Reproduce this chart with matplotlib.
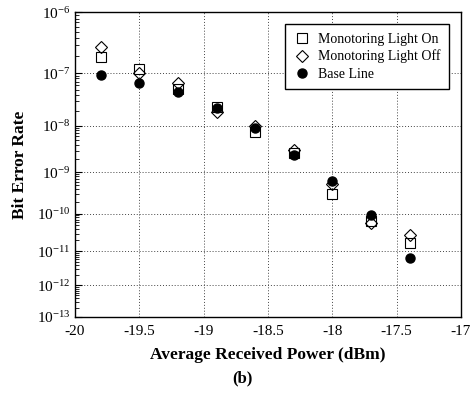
import numpy as np
import matplotlib
matplotlib.use('Agg')
import matplotlib.pyplot as plt
from matplotlib.ticker import LogLocator, LogFormatterSciNotation, MultipleLocator, NullFormatter

plt.rcParams['font.family'] = ['Liberation Serif', 'DejaVu Serif']
plt.rcParams['mathtext.fontset'] = 'custom'
plt.rcParams['mathtext.rm'] = 'Liberation Serif'
plt.rcParams['mathtext.it'] = 'Liberation Serif:italic'
plt.rcParams['mathtext.bf'] = 'Liberation Serif:bold'

# received power (dBm)
power = [-19.8, -19.5, -19.2, -18.9, -18.6, -18.3, -18.0, -17.7, -17.4]
# bit error rates
ber_light_on = [1.9e-7, 1.2e-7, 5.1e-8, 2.3e-8, 7.6e-9, 2.7e-9, 3.1e-10, 6.6e-11, 1.7e-11]
ber_light_off = [2.8e-7, 1.0e-7, 6.5e-8, 1.9e-8, 1.0e-8, 3.1e-9, 5.3e-10, 5.9e-11, 2.8e-11]
ber_base = [9.1e-8, 6.7e-8, 4.5e-8, 2.2e-8, 8.9e-9, 2.4e-9, 6.3e-10, 9.3e-11, 6.6e-12]


# BER axis: log(-log(BER)) scale
def fwd(y):
    y = np.clip(np.asarray(y, dtype=float), 1e-300, 0.999999)
    return -np.log10(-np.log10(y))


def inv(u):
    return 10.0 ** (-(10.0 ** (-np.asarray(u, dtype=float))))


fig = plt.figure(figsize=(4.76, 3.97), dpi=100)
ax = fig.add_axes([0.1576, 0.2015, 0.9685 - 0.1576, 0.969 - 0.2015])

ax.plot(power, ber_light_on, linestyle='none', marker='s', markersize=7,
        markerfacecolor='white', markeredgecolor='black', markeredgewidth=0.8,
        label='Monotoring Light On', zorder=3)
ax.plot(power, ber_light_off, linestyle='none', marker='D', markersize=6.5,
        markerfacecolor='none', markeredgecolor='black', markeredgewidth=0.8,
        label='Monotoring Light Off', zorder=4)
ax.plot(power, ber_base, linestyle='none', marker='o', markersize=6.5,
        markerfacecolor='black', markeredgecolor='black',
        label='Base Line', zorder=5)

ax.set_yscale('function', functions=(fwd, inv))
ax.set_ylim(1e-13, 1e-6)
ax.set_xlim(-20, -17)

ax.yaxis.set_major_locator(LogLocator(base=10, numticks=20))
ax.yaxis.set_major_formatter(LogFormatterSciNotation(base=10))
ax.yaxis.set_minor_locator(LogLocator(base=10, subs=np.arange(2, 10), numticks=20))
ax.yaxis.set_minor_formatter(NullFormatter())
ax.xaxis.set_major_locator(MultipleLocator(0.5))
ax.xaxis.set_major_formatter(plt.FuncFormatter(lambda v, p: '%g' % v))

ax.tick_params(axis='both', which='both', direction='in', right=False, top=False,
               labelsize=11)
ax.tick_params(axis='y', which='major', length=5, width=0.8)
ax.tick_params(axis='y', which='minor', length=3, width=0.6)
ax.tick_params(axis='x', which='major', length=0, pad=6)

ax.grid(True, which='major', linestyle=(0, (1, 2)), color='#444444', linewidth=0.7)

for s in ax.spines.values():
    s.set_linewidth(1.0)
    s.set_color('black')

ax.set_ylabel('Bit Error Rate', fontsize=12.5, fontweight='bold', labelpad=6)
ax.set_xlabel('Average Received Power (dBm)', fontsize=12.5, fontweight='bold', labelpad=6)

leg = ax.legend(loc='upper right', bbox_to_anchor=(0.969, 0.961), borderaxespad=0,
                fontsize=10, frameon=True, fancybox=False, edgecolor='black',
                framealpha=1, handletextpad=0.6, borderpad=0.6, labelspacing=0.3,
                handlelength=1.2)
leg.get_frame().set_linewidth(1.0)

fig.text(0.51, 0.048, '(b)', fontsize=12, fontweight='bold', ha='center', va='center')

fig.savefig('out.png', dpi=100)
